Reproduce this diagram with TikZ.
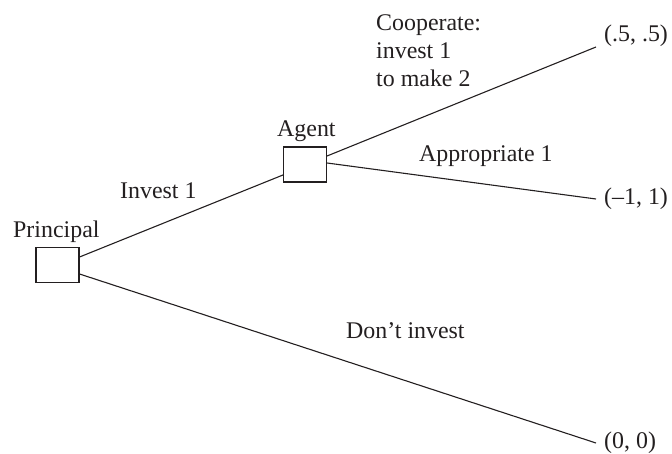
\documentclass[tikz,border=0pt]{standalone}
\usepackage{fontspec}
\setmainfont{Liberation Serif}
\definecolor{ink}{HTML}{231F20}
\begin{document}
\begin{tikzpicture}[x=1bp,y=-1bp,
  every node/.style={text=ink},
  lbl/.style={font=\fontsize{24}{28.5}\selectfont, inner sep=0pt, anchor=base west},
  decbox/.style={draw=ink, line width=1.1bp, fill=white, minimum width=43bp, minimum height=35bp, inner sep=0pt},
  branch/.style={draw=ink, line width=1.1bp}]
\useasboundingbox (0,0) rectangle (672,454);
% decision nodes
\node[decbox] (P) at (57.5,265) {};
\node[decbox] (A) at (305,164.5) {};
% terminal points
\coordinate (e1) at (596,47);
\coordinate (e2) at (596,199);
\coordinate (e3) at (596,443);
% branches
\draw[branch] ([yshift=8bp]P.east) -- ([yshift=-10.5bp]A.west);
\draw[branch] ([yshift=-9bp]P.east) -- (e3);
\draw[branch] ([yshift=8.5bp]A.east) -- (e1);
\draw[branch] ([yshift=1.5bp]A.east) -- (e2);
% labels
\node[lbl] (lp) at (13,238) {Principal};
\node[lbl] (la) at (277,137) {Agent};
\node[lbl] (li) at (120,199) {Invest 1};
\node[lbl, align=left] (lc) at (376,87) {Cooperate:\\invest 1\\to make 2};
\node[lbl] (lap) at (419,162) {Appropriate 1};
\node[lbl] (ld) at (346,338) {Don’t invest};
\node[lbl] (p1) at (604,42) {(.5, .5)};
\node[lbl] (p2) at (604,205) {(–1, 1)};
\node[lbl] (p3) at (604,448) {(0, 0)};
\end{tikzpicture}
\end{document}
